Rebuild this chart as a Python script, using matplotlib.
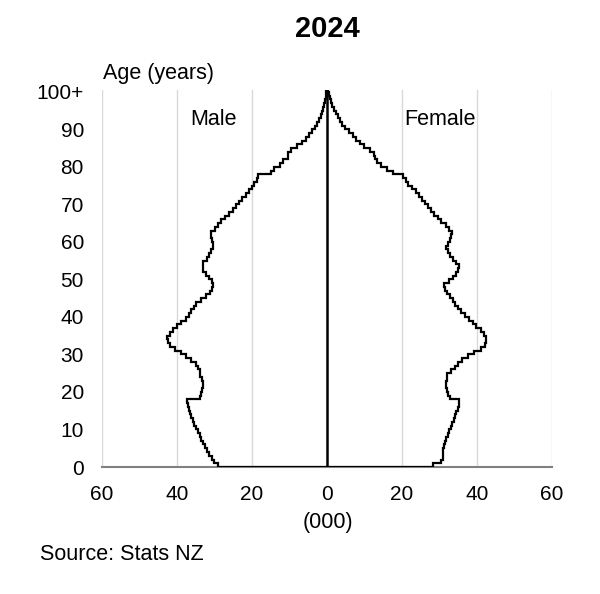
import numpy as np
import matplotlib
matplotlib.use("Agg")
import matplotlib.pyplot as plt

plt.rcParams['font.family'] = ['Liberation Sans', 'DejaVu Sans']

# Population by single year of age, 2024 (thousands), ages 0..100+
ages = np.arange(0, 101)
male = [
    29.1, 30.2, 30.8, 31.6, 32.1, 32.5, 33.0, 33.5, 34.0, 34.5,   # 0-9
    35.0, 35.4, 35.8, 36.2, 36.5, 36.8, 37.1, 37.3, 34.0, 33.6,   # 10-19
    33.4, 33.2, 33.0, 33.4, 33.8, 34.0, 34.5, 35.0, 36.2, 37.5,   # 20-29
    39.0, 40.5, 41.8, 42.5, 42.7, 42.0, 41.0, 40.0, 39.0, 37.5,   # 30-39
    36.8, 36.2, 35.6, 35.0, 33.5, 32.2, 31.2, 30.8, 30.5, 30.8,   # 40-49
    31.6, 32.3, 33.0, 33.2, 33.0, 32.0, 31.5, 31.0, 30.5, 30.4,   # 50-59
    30.8, 30.9, 30.9, 29.8, 29.0, 28.2, 27.2, 26.2, 25.2, 24.4,   # 60-69
    23.6, 22.6, 21.6, 20.8, 20.0, 19.4, 18.8, 18.3, 15.0, 14.2,   # 70-79
    12.5, 11.8, 10.5, 10.4, 9.6, 8.0, 6.8, 5.7, 4.8, 4.0,         # 80-89
    3.3, 2.7, 2.1, 1.7, 1.3, 1.0, 0.8, 0.6, 0.4, 0.3,             # 90-99
    0.2,                                                          # 100+
]
female = [
    28.2, 30.3, 30.8, 31.0, 31.0, 31.2, 31.5, 31.8, 32.2, 32.6,   # 0-9
    33.0, 33.4, 33.8, 34.1, 34.4, 34.8, 35.1, 35.3, 32.8, 32.2,   # 10-19
    31.9, 31.8, 31.8, 31.9, 32.1, 33.0, 34.0, 35.0, 36.0, 37.5,   # 20-29
    39.3, 41.0, 42.0, 42.4, 42.3, 41.8, 41.0, 39.8, 38.8, 37.8,   # 30-39
    36.8, 35.8, 34.8, 34.2, 33.5, 32.8, 32.0, 31.5, 31.3, 32.5,   # 40-49
    33.5, 34.3, 34.9, 35.3, 34.5, 33.5, 32.8, 32.3, 31.8, 32.2,   # 50-59
    32.7, 33.0, 33.3, 32.5, 31.8, 30.5, 29.6, 28.6, 27.8, 26.9,   # 60-69
    26.2, 25.3, 24.4, 23.6, 22.6, 21.7, 21.0, 20.3, 17.5, 16.0,   # 70-79
    14.5, 13.2, 12.8, 12.5, 11.5, 9.8, 8.8, 7.8, 6.9, 5.9,        # 80-89
    4.9, 4.1, 3.4, 2.8, 2.3, 1.8, 1.4, 1.1, 0.8, 0.5,             # 90-99
    0.3,                                                          # 100+
]
y_ticks = [0, 10, 20, 30, 40, 50, 60, 70, 80, 90, 100]
y_labels = ['0', '10', '20', '30', '40', '50', '60', '70', '80', '90', '100+']
x_ticks = [-60, -40, -20, 0, 20, 40, 60]

fig = plt.figure(figsize=(6.0, 5.94), dpi=100)
ax = fig.add_axes([0.17, 0.2138, 0.75, 0.6347])

edges = np.append(ages, ages[-1] + 1)
ax.stairs(-np.array(male), edges, orientation='horizontal', baseline=0,
          color='black', lw=1.6, zorder=3)
ax.stairs(np.array(female), edges, orientation='horizontal', baseline=0,
          color='black', lw=1.6, zorder=3)
ax.axvline(0, color='black', lw=1.8, zorder=4)

ax.set_xlim(-60, 60)
ax.set_ylim(0, 100.5)
ax.set_xticks(x_ticks)
ax.set_xticklabels([str(abs(v)) for v in x_ticks])
ax.set_yticks(y_ticks)
ax.set_yticklabels(y_labels)
ax.tick_params(axis='both', length=0, labelsize=15)
ax.tick_params(axis='y', pad=13)
ax.tick_params(axis='x', pad=13)

for v in [-60, -40, -20, 20, 40, 60]:
    ax.axvline(v, color='#d9d9d9', lw=1.0, zorder=1)

for s in ['top', 'right', 'left']:
    ax.spines[s].set_visible(False)
ax.spines['bottom'].set_color('#808080')
ax.spines['bottom'].set_linewidth(1.5)

ax.text(-30.3, 92.7, 'Male', ha='center', va='center', fontsize=15.5)
ax.text(30.1, 92.7, 'Female', ha='center', va='center', fontsize=15.5)

fig.text(0.5458, 0.951, '2024', ha='center', va='center', fontsize=21, fontweight='bold')
fig.text(0.172, 0.877, 'Age (years)', ha='left', va='center', fontsize=15.5)
fig.text(0.5458, 0.121, '(000)', ha='center', va='center', fontsize=15.5)
fig.text(0.067, 0.066, 'Source: Stats NZ', ha='left', va='center', fontsize=15.5)

fig.savefig('out.png', dpi=100, facecolor='white')
